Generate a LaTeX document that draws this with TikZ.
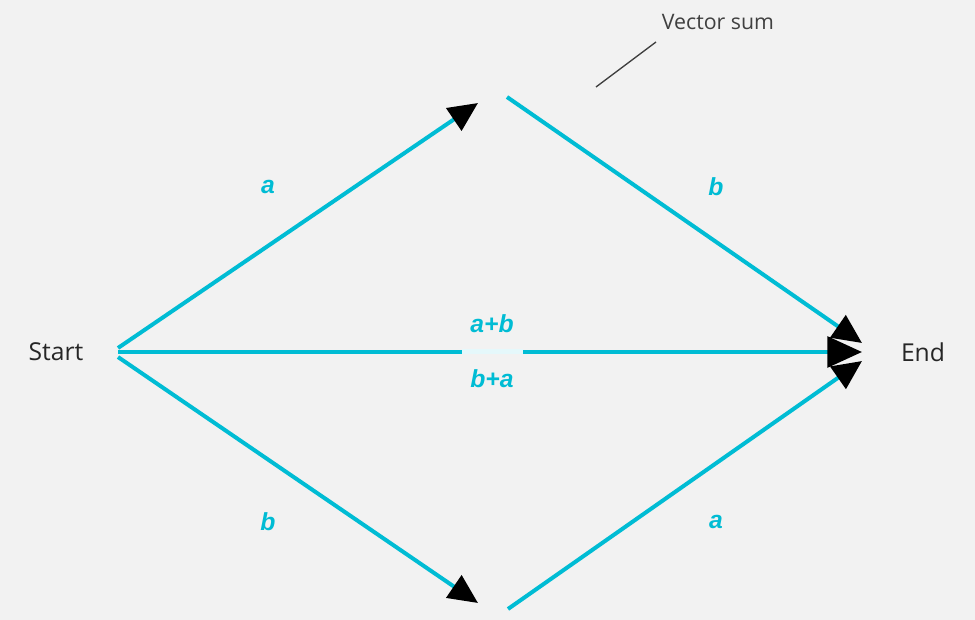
\documentclass[tikz,border=0pt]{standalone}
\usepackage{fontspec}
\setmainfont{Open Sans}
\newfontfamily\lblfont{Liberation Sans}
\usetikzlibrary{arrows.meta, positioning}

\definecolor{vcyan}{HTML}{00BCD4}
\definecolor{paper}{HTML}{F2F2F2}
\definecolor{ink}{HTML}{404040}

\begin{document}
\begin{tikzpicture}[x=0.75pt, y=-0.75pt,
  vec/.style={draw=vcyan, line width=3pt, -{Triangle[color=black, length=22pt, width=20pt]}},
  lbl/.style={text=vcyan, font=\lblfont\fontsize{18.5}{22}\selectfont\bfseries\itshape},
  word/.style={text=black!85, font=\fontsize{18.5}{22}\selectfont}]
\fill[paper] (0,0) rectangle (975,620);

\node[word] (start) at (56,352) {Start};
\node[word] (end) at (923,352) {End};
\node[text=ink, font=\fontsize{16}{20}\selectfont] (sum) at (718,22) {Vector sum};

% end points of the vectors
\coordinate (s1) at (118,348);
\coordinate (s2) at (118,352);
\coordinate (s3) at (118,357);
\coordinate (ta) at (478,103);
\coordinate (tb) at (507,97);
\coordinate (ba) at (478,603);
\coordinate (bb) at (508,609);
\coordinate (e1) at (862,343);
\coordinate (e2) at (862,352);
\coordinate (e3) at (862,361);
\coordinate (tip) at (596,87);

\draw[vec] (s1) -- (ta);
\draw[vec] (tb) -- (e1);
\draw[vec] (s3) -- (ba);
\draw[vec] (bb) -- (e3);
\draw[vec, -{Triangle[color=black, length=26pt, width=23pt]}] (s2) -- (e2);
\fill[vcyan!10!white] (462,349.5) rectangle (523,354.5);
\draw[ink, line width=1pt] (tip) -- (656,42);

\node[lbl] (a1) at (268,187) {a};
\node[lbl] (b1) at (716,187) {b};
\node[lbl] (ab) at (492,324) {a+b};
\node[lbl] (ba2) at (492,379) {b+a};
\node[lbl] (b2) at (268,522) {b};
\node[lbl] (a2) at (716,522) {a};
\end{tikzpicture}
\end{document}
